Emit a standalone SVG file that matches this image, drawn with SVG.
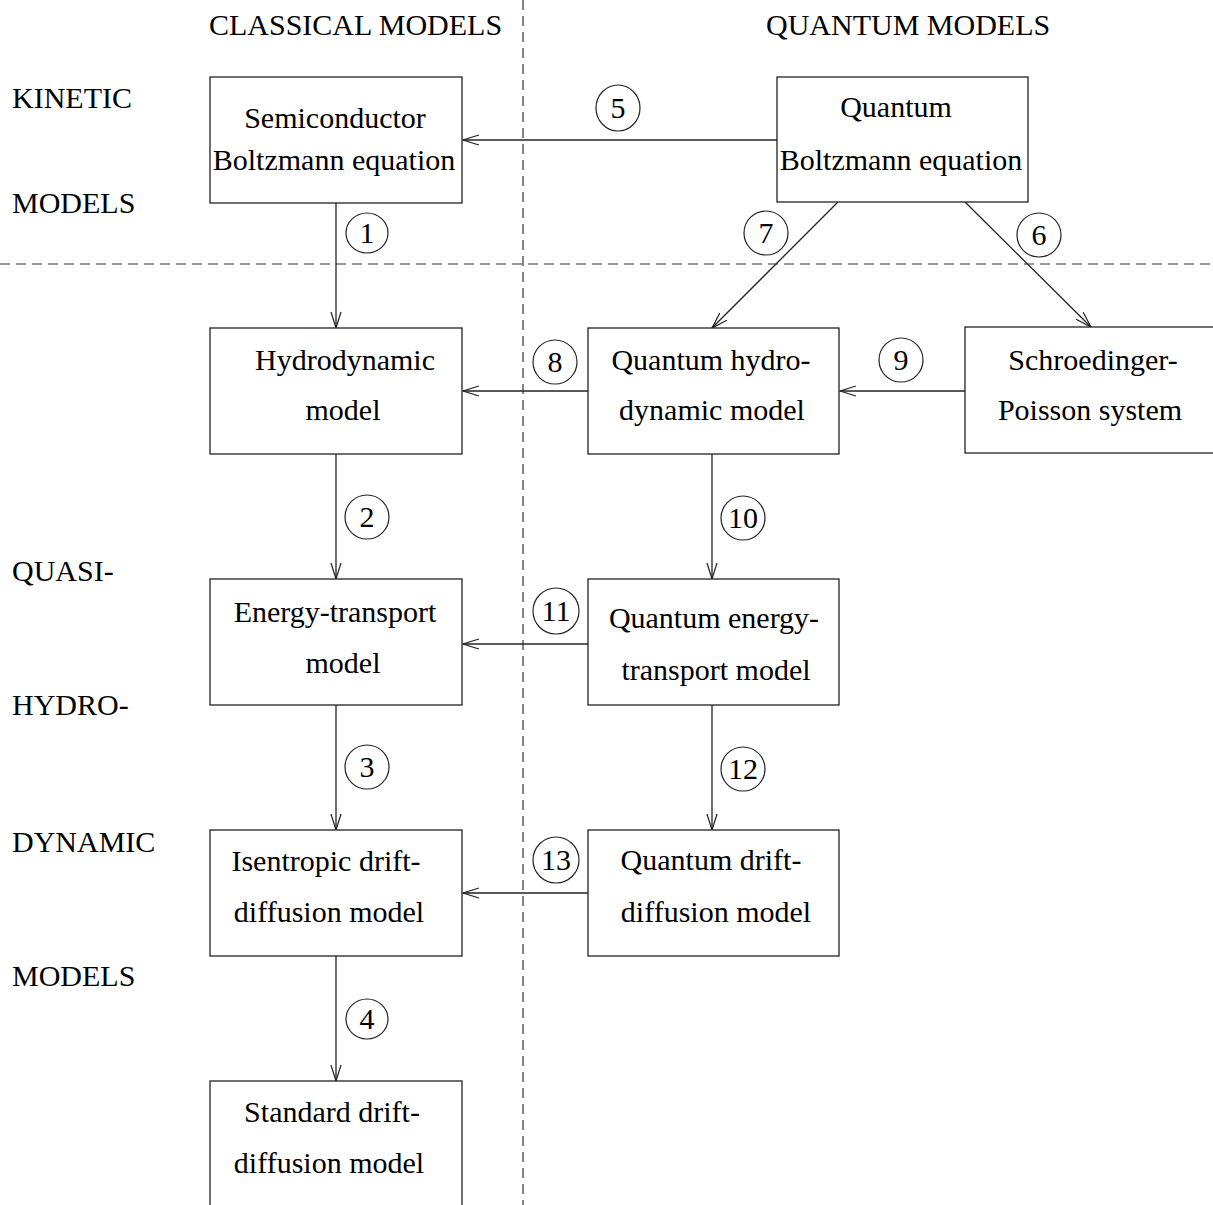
<svg xmlns="http://www.w3.org/2000/svg" width="1213" height="1205" viewBox="0 0 1213 1205">
<style>
text{font-family:"Liberation Serif","Times New Roman",serif;font-size:30px;fill:#000}
.c{text-anchor:middle}
.box{fill:#fff;stroke:#222;stroke-width:1.3}
.dash{stroke:#333;stroke-width:1.2;stroke-dasharray:10 6;fill:none}
.edge{stroke:#222;stroke-width:1.3;fill:none}
.num{fill:none;stroke:#222;stroke-width:1.2}
</style>
<defs>
<marker id="ah" markerUnits="userSpaceOnUse" viewBox="-17 -7 19 14" refX="0" refY="0" markerWidth="19" markerHeight="14" orient="auto">
<path d="M-16,-5 L0,0 L-16,5" fill="none" stroke="#222" stroke-width="1.2"/>
</marker>
</defs>
<rect width="1213" height="1205" fill="#fff"/>
<g id="dividers">
<line class="dash" x1="523" y1="0" x2="523" y2="1205"/>
<line class="dash" x1="0" y1="264" x2="1213" y2="264"/>
</g>
<g id="headers">
<text x="209" y="35">CLASSICAL MODELS</text>
<text x="766" y="35">QUANTUM MODELS</text>
<text x="12" y="108">KINETIC</text>
<text x="12" y="213">MODELS</text>
<text x="12" y="581">QUASI-</text>
<text x="12" y="715">HYDRO-</text>
<text x="12" y="852">DYNAMIC</text>
<text x="12" y="986">MODELS</text>
</g>
<g id="connectors">
<line class="edge" x1="777" y1="140" x2="463" y2="140" marker-end="url(#ah)"/>
<line class="edge" x1="336" y1="203" x2="336" y2="328" marker-end="url(#ah)"/>
<line class="edge" x1="838" y1="202" x2="712" y2="328" marker-end="url(#ah)"/>
<line class="edge" x1="965" y1="202" x2="1091" y2="327" marker-end="url(#ah)"/>
<line class="edge" x1="588" y1="391" x2="463" y2="391" marker-end="url(#ah)"/>
<line class="edge" x1="965" y1="391" x2="840" y2="391" marker-end="url(#ah)"/>
<line class="edge" x1="336" y1="454" x2="336" y2="579" marker-end="url(#ah)"/>
<line class="edge" x1="712" y1="454" x2="712" y2="579" marker-end="url(#ah)"/>
<line class="edge" x1="588" y1="644" x2="463" y2="644" marker-end="url(#ah)"/>
<line class="edge" x1="336" y1="705" x2="336" y2="830" marker-end="url(#ah)"/>
<line class="edge" x1="712" y1="705" x2="712" y2="830" marker-end="url(#ah)"/>
<line class="edge" x1="588" y1="893" x2="463" y2="893" marker-end="url(#ah)"/>
<line class="edge" x1="336" y1="956" x2="336" y2="1081" marker-end="url(#ah)"/>
</g>
<g id="labels">
<ellipse class="num" cx="367" cy="233" rx="21" ry="20"/><text class="c" x="367" y="243">1</text>
<ellipse class="num" cx="367" cy="517" rx="22" ry="22"/><text class="c" x="367" y="527">2</text>
<ellipse class="num" cx="367" cy="767" rx="22" ry="22"/><text class="c" x="367" y="777">3</text>
<ellipse class="num" cx="367" cy="1019" rx="21" ry="20"/><text class="c" x="367" y="1029">4</text>
<ellipse class="num" cx="618" cy="108" rx="22" ry="23"/><text class="c" x="618" y="118">5</text>
<ellipse class="num" cx="1039" cy="235" rx="22" ry="22"/><text class="c" x="1039" y="245">6</text>
<ellipse class="num" cx="766" cy="233" rx="22" ry="22"/><text class="c" x="766" y="243">7</text>
<ellipse class="num" cx="555" cy="362" rx="22" ry="22"/><text class="c" x="555" y="372">8</text>
<ellipse class="num" cx="901" cy="360" rx="22" ry="22"/><text class="c" x="901" y="370">9</text>
<ellipse class="num" cx="743" cy="518" rx="22" ry="22"/><text class="c" x="743" y="528">10</text>
<ellipse class="num" cx="556" cy="611" rx="23" ry="23"/><text class="c" x="556" y="621">11</text>
<ellipse class="num" cx="743" cy="769" rx="22" ry="22"/><text class="c" x="743" y="779">12</text>
<ellipse class="num" cx="556" cy="860" rx="23" ry="23"/><text class="c" x="556" y="870">13</text>
</g>
<g id="n-semiconductor">
<rect class="box" x="210" y="77" width="252" height="126"/>
<text class="c" x="335" y="128">Semiconductor</text>
<text class="c" x="334" y="170">Boltzmann equation</text>
</g>
<g id="n-quantum-boltzmann">
<rect class="box" x="777" y="77" width="251" height="125"/>
<text class="c" x="896" y="117">Quantum</text>
<text class="c" x="901" y="170">Boltzmann equation</text>
</g>
<g id="n-hydrodynamic">
<rect class="box" x="210" y="328" width="252" height="126"/>
<text class="c" x="345" y="370">Hydrodynamic</text>
<text class="c" x="343" y="420">model</text>
</g>
<g id="n-quantum-hydro">
<rect class="box" x="588" y="328" width="251" height="126"/>
<text class="c" x="711" y="370">Quantum hydro-</text>
<text class="c" x="712" y="420">dynamic model</text>
</g>
<g id="n-schroedinger">
<rect class="box" x="965" y="327" width="252" height="126"/>
<text class="c" x="1093" y="370">Schroedinger-</text>
<text class="c" x="1090" y="420">Poisson system</text>
</g>
<g id="n-energy-transport">
<rect class="box" x="210" y="579" width="252" height="126"/>
<text class="c" x="335" y="622">Energy-transport</text>
<text class="c" x="343" y="673">model</text>
</g>
<g id="n-quantum-energy">
<rect class="box" x="588" y="579" width="251" height="126"/>
<text class="c" x="714" y="628">Quantum energy-</text>
<text class="c" x="716" y="680">transport model</text>
</g>
<g id="n-isentropic">
<rect class="box" x="210" y="830" width="252" height="126"/>
<text class="c" x="326" y="871">Isentropic drift-</text>
<text class="c" x="329" y="922">diffusion model</text>
</g>
<g id="n-quantum-drift">
<rect class="box" x="588" y="830" width="251" height="126"/>
<text class="c" x="711" y="870">Quantum drift-</text>
<text class="c" x="716" y="922">diffusion model</text>
</g>
<g id="n-standard">
<rect class="box" x="210" y="1081" width="252" height="126"/>
<text class="c" x="332" y="1122">Standard drift-</text>
<text class="c" x="329" y="1173">diffusion model</text>
</g>
</svg>
